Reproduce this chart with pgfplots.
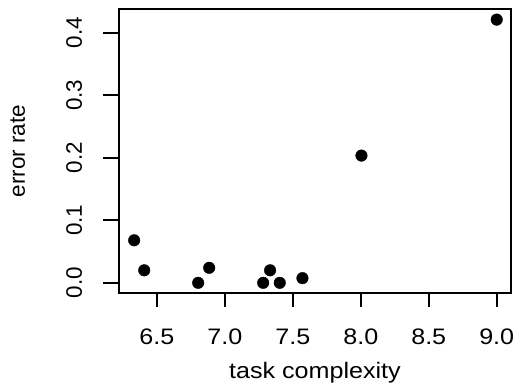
\documentclass[border=0pt]{standalone}
\usepackage{fontspec}
\setmainfont{Liberation Sans}
\usepackage{pgfplots}
\pgfplotsset{compat=1.18}
\begin{document}
\begin{tikzpicture}
\begin{axis}[
  name=ax, at={(0,0)}, anchor=south west,
  scale only axis, width=392bp, height=284bp,
  xmin=6.2215, xmax=9.105, ymin=-0.0163, ymax=0.438,
  axis line style={line width=1.2bp},
  clip=false,
  xtick={6.5,7,7.5,8,8.5,9}, ytick={0,0.1,0.2,0.3,0.4},
  xticklabels={6.5,7.0,7.5,8.0,8.5,9.0},
  yticklabels={0.0,0.1,0.2,0.3,0.4},
  xtick pos=lower, ytick pos=lower,
  tick align=outside, major tick length=14bp,
  major tick style={line width=1.5bp, draw=black},
  ticklabel style={font=\fontsize{22.5}{26}\selectfont, inner sep=0pt},
  xticklabel style={anchor=base, xscale=1.12},
  xticklabel shift=37bp,
  yticklabel style={rotate=90, anchor=base},
  yticklabel shift=23bp,
  label style={font=\fontsize{22.5}{26}\selectfont, inner sep=0pt},
  xlabel={task complexity},
  ylabel={error rate},
  xlabel style={at={([yshift=-85bp]axis description cs:0.5,0)}, anchor=base, xscale=1.12},
  ylabel style={at={([xshift=-94bp]axis description cs:0,0.5)}, anchor=base},
]
\addplot[only marks, mark=*, mark size=5.8bp, black] coordinates {
(6.333,0.068) (6.407,0.020) (6.804,0.000) (6.885,0.024) (7.282,0.000)
(7.333,0.020) (7.404,0.000) (7.571,0.0075) (8.005,0.2035) (9.000,0.421)
};
\coordinate (xa) at (axis cs:6.5,-0.0163);
\coordinate (xb) at (axis cs:7,-0.0163);
\coordinate (xc) at (axis cs:7.5,-0.0163);
\coordinate (xd) at (axis cs:8,-0.0163);
\coordinate (xe) at (axis cs:8.5,-0.0163);
\coordinate (xf) at (axis cs:9,-0.0163);
\coordinate (ya) at (axis cs:6.2215,0);
\coordinate (yb) at (axis cs:6.2215,0.1);
\coordinate (yc) at (axis cs:6.2215,0.2);
\coordinate (yd) at (axis cs:6.2215,0.3);
\coordinate (ye) at (axis cs:6.2215,0.4);
\end{axis}
\foreach \p in {xa,xb,xc,xd,xe,xf}{
  \fill[black] ([xshift=-0.8bp]\p) rectangle ([xshift=0.8bp,yshift=-14bp]\p);
}
\foreach \p in {ya,yb,yc,yd,ye}{
  \fill[black] ([yshift=-0.8bp]\p) rectangle ([yshift=0.8bp,xshift=-16bp]\p);
}
\pgfresetboundingbox
\path[use as bounding box] (-119bp,-95bp) rectangle (396bp,293bp);
\end{tikzpicture}
\end{document}
